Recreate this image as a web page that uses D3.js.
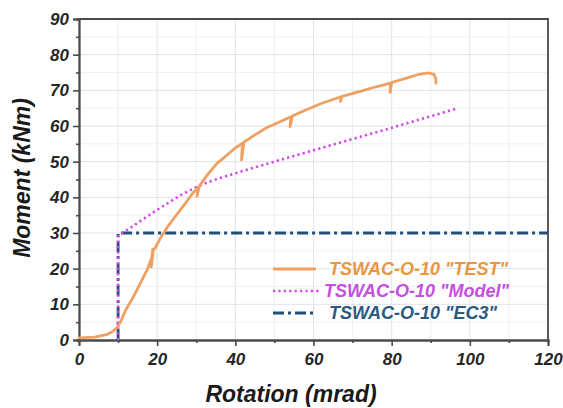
<!DOCTYPE html>
<html>
<head>
<meta charset="utf-8">
<script src="https://cdn.jsdelivr.net/npm/d3@7"></script>
<style>
  html, body { margin: 0; padding: 0; background: #fff; }
  svg text { font-family: Arial, "Liberation Sans", sans-serif; font-weight: bold; font-style: italic; }
</style>
</head>
<body>
<svg id="chart" width="563" height="408"></svg>
<script>
// Moment–rotation curves for specimen TSWAC-O-10
const testRotation = [0, 4, 7, 8.5, 9.8, 10.8, 12, 13.9, 15.5, 17.4, 18.6, 18.9, 18.5, 19, 19.5, 20.8, 22.5, 24.2, 27, 29, 30.5, 30.2, 30.8, 33, 35.3, 37.5, 39.6, 41.8, 41.6, 42.2, 45, 48, 51, 54.2, 54, 54.6, 58, 62, 67, 66.9, 67.3, 72, 76, 79.7, 79.6, 80, 84, 87, 89.5, 90.8, 91.3, 91.3];
const testMoment   = [0.6, 0.8, 1.5, 2.3, 3.5, 5.5, 8.5, 12.1, 15.5, 19.6, 23, 25.5, 20.5, 25.3, 25.8, 28.5, 31.5, 34, 38, 41, 42.8, 40.3, 43.2, 46.5, 49.5, 51.5, 53.5, 55.2, 50.5, 55.5, 57.5, 59.5, 61, 62.6, 59.8, 62.8, 64.5, 66.3, 68.2, 66.9, 68.3, 69.7, 71, 72, 69.4, 72.2, 73.5, 74.5, 74.9, 74.5, 73.3, 72];

const modelRotation = [10, 10, 11, 13, 16, 21, 26, 31, 36, 45, 60, 80, 97];
const modelMoment   = [0, 29, 30, 31.3, 33.6, 37.2, 40.6, 43.4, 45.4, 48.4, 53.2, 59.5, 65];

const ec3Rotation = [10, 10, 120];
const ec3Moment   = [0, 30, 30];

const xTicks = [0, 20, 40, 60, 80, 100, 120];
const yTicks = [0, 10, 20, 30, 40, 50, 60, 70, 80, 90];

const seriesNames = ['TSWAC-O-10 "TEST"', 'TSWAC-O-10 "Model"', 'TSWAC-O-10 "EC3"'];

const svg = d3.select('#chart');
const plot = { left: 79, right: 548, top: 19, bottom: 340 };

const x = d3.scaleLinear().domain([0, 120]).range([plot.left, plot.right]);
const y = d3.scaleLinear().domain([0, 90]).range([plot.bottom, plot.top]);

// grid: minor lines first, then majors
const grid = svg.append('g');
grid.selectAll('line.vx').data(d3.range(10, 120, 10)).join('line')
  .attr('x1', d => x(d)).attr('x2', d => x(d))
  .attr('y1', plot.top).attr('y2', plot.bottom)
  .attr('stroke', d => d % 20 === 0 ? '#e0e3e8' : '#eceef1').attr('stroke-width', 1);
grid.selectAll('line.hy').data(d3.range(5, 90, 5)).join('line')
  .attr('x1', plot.left).attr('x2', plot.right)
  .attr('y1', d => y(d)).attr('y2', d => y(d))
  .attr('stroke', d => d % 10 === 0 ? '#e0e3e8' : '#eef0f2').attr('stroke-width', 1);

// frame (top and right)
svg.append('path')
  .attr('d', `M${plot.left},${plot.top}H${plot.right}V${plot.bottom}`)
  .attr('fill', 'none').attr('stroke', '#4a4a4a').attr('stroke-width', 1.8);

// axes
const xAxis = svg.append('g').attr('transform', `translate(0,${plot.bottom})`)
  .call(d3.axisBottom(x).tickValues(xTicks).tickSize(6).tickPadding(5).tickFormat(d3.format('d')));
const xMinor = svg.append('g').attr('transform', `translate(0,${plot.bottom})`)
  .call(d3.axisBottom(x).tickValues(d3.range(10, 120, 20)).tickSize(3).tickFormat(''));
const yAxis = svg.append('g').attr('transform', `translate(${plot.left},0)`)
  .call(d3.axisLeft(y).tickValues(yTicks).tickSize(6).tickPadding(4).tickFormat(d3.format('d')));
const yMinor = svg.append('g').attr('transform', `translate(${plot.left},0)`)
  .call(d3.axisLeft(y).tickValues(d3.range(5, 90, 10)).tickSize(3).tickFormat(''));

[xAxis, xMinor, yAxis, yMinor].forEach(g => {
  g.select('.domain').attr('stroke', '#4a4a4a').attr('stroke-width', 1.8);
  g.selectAll('.tick line').attr('stroke', '#4a4a4a').attr('stroke-width', 1.6);
});
[xAxis, yAxis].forEach(g => g.selectAll('.tick text')
  .attr('font-size', 17).attr('fill', '#262626')
  .style('font-family', 'Arial, "Liberation Sans", sans-serif'));
xAxis.selectAll('.tick text').attr('dy', '0.85em');

// axis titles
svg.append('text')
  .attr('x', 291).attr('y', 402).attr('text-anchor', 'middle')
  .attr('font-size', 23).attr('fill', '#1a1a1a').text('Rotation (mrad)');
svg.append('text')
  .attr('transform', 'translate(30,178) rotate(-90)').attr('text-anchor', 'middle')
  .attr('font-size', 23).attr('fill', '#1a1a1a').text('Moment  (kNm)');

const line = d3.line().x(d => x(d[0])).y(d => y(d[1]));

const styles = [
  { color: '#f0a060', text: '#ea9640', width: 2.8, dash: null, cap: 'round' },
  { color: '#d646ea', text: '#c450e0', width: 2.6, dash: '2.2,3.2', cap: 'butt' },
  { color: '#1e4f78', text: '#2b5a80', width: 2.8, dash: '11,4,3,4', cap: 'butt' }
];

const series = [
  d3.zip(testRotation, testMoment),
  d3.zip(modelRotation, modelMoment),
  d3.zip(ec3Rotation, ec3Moment)
];

// draw EC3 first, then model, then test on top
[2, 1, 0].forEach(i => {
  svg.append('path').datum(series[i])
    .attr('d', line)
    .attr('fill', 'none')
    .attr('stroke', styles[i].color)
    .attr('stroke-width', styles[i].width)
    .attr('stroke-linejoin', 'round')
    .attr('stroke-linecap', styles[i].cap)
    .attr('stroke-dasharray', styles[i].dash);
});

// legend
const legend = svg.append('g');
const rows = [269, 291, 313];
const sampleEnd = [316, 321, 316];
const textStart = [329, 324, 329];
seriesNames.forEach((name, i) => {
  legend.append('line')
    .attr('x1', 273).attr('x2', sampleEnd[i]).attr('y1', rows[i]).attr('y2', rows[i])
    .attr('stroke', styles[i].color).attr('stroke-width', styles[i].width)
    .attr('stroke-dasharray', styles[i].dash);
  legend.append('text')
    .attr('x', textStart[i]).attr('y', rows[i]).attr('dy', '0.36em')
    .attr('font-size', 18).attr('fill', styles[i].text).text(name);
});
</script>
</body>
</html>
